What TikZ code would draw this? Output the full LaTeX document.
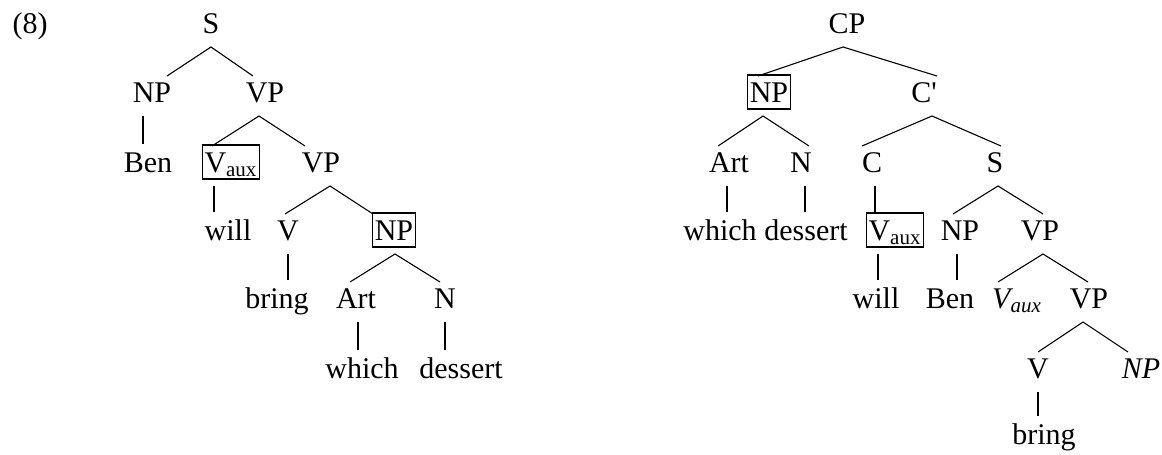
\documentclass[tikz,border=0pt]{standalone}
\usepackage{fontspec}
\setmainfont{Liberation Serif}
\usepackage{tikz}
\usetikzlibrary{calc}
\newcommand{\arms}[6]{\draw[arm] ($(#3.base)+(#4,-26)$) -- ($(#1.base)+(#2,14)$) -- ($(#5.base)+(#6,-26)$);}
\newcommand{\stalk}[3]{\draw[arm] ($(#1.base)+(#2,14)$) -- ($(#1.base |- #3.base)+(#2,-28)$);}

\begin{document}
\begin{tikzpicture}[x=0.5pt,y=-0.5pt,
   w/.style={anchor=base,inner sep=0pt,font=\fontsize{15}{18}\selectfont},
   boxed/.style={w,draw,line width=0.6pt,inner xsep=1pt,inner ysep=1pt,text height=12.5pt,text depth=2.5pt},
   arm/.style={line width=0.55pt}]
  \useasboundingbox (0,0) rectangle (1162,455);
  % left tree
  \node[w] (ex) at (30,33) {(8)};
  \node[w] (S) at (211,33) {S};
  \node[w] (NP) at (152,102) {NP};
  \node[w] (VP) at (265,102) {VP};
  \node[w] (Ben) at (148,172) {Ben};
  \node[boxed] (Vaux) at (231,172) {V\textsubscript{aux}};
  \node[w] (VP2) at (321,172) {VP};
  \node[w] (will) at (228,240) {will};
  \node[w] (V) at (288,240) {V};
  \node[boxed] (NP2) at (394,240) {NP};
  \node[w] (bring) at (277,308) {bring};
  \node[w] (Art) at (356,308) {Art};
  \node[w] (N) at (445,308) {N};
  \node[w] (which) at (362,378) {which};
  \node[w] (dessert) at (461,378) {dessert};
  \arms{S}{0}{NP}{15}{VP}{-12}
  \arms{VP}{-6}{Vaux}{-19}{VP2}{-16}
  \arms{VP2}{9}{V}{-3}{NP2}{-21}
  \arms{NP2}{1}{Art}{-6}{N}{-5}
  \stalk{NP}{-9}{Ben}
  \stalk{Vaux}{-17}{will}
  \stalk{V}{0}{bring}
  \stalk{Art}{2}{which}
  \stalk{N}{0}{dessert}
  % right tree
  \node[w] (CP) at (847,33) {CP};
  \node[boxed] (NP3) at (769,102) {NP};
  \node[w] (Cbar) at (924,102) {C\textquotesingle};
  \node[w] (Art2) at (729,172) {Art};
  \node[w] (N2) at (801,172) {N};
  \node[w] (C) at (872,172) {C};
  \node[w] (S2) at (995,172) {S};
  \node[w] (which2) at (720,240) {which};
  \node[w] (dessert2) at (806,240) {dessert};
  \node[boxed] (Vaux2) at (895,240) {V\textsubscript{aux}};
  \node[w] (NP4) at (960,240) {NP};
  \node[w] (VP3) at (1040,240) {VP};
  \node[w] (will2) at (876,308) {will};
  \node[w] (Ben2) at (950,308) {Ben};
  \node[w] (Vaux3) at (1017,308) {\itshape V\textsubscript{aux}};
  \node[w] (VP4) at (1089,308) {VP};
  \node[w] (V2) at (1038,378) {V};
  \node[w] (NP5) at (1141,378) {\itshape NP};
  \node[w] (bring2) at (1044,444) {bring};
  \arms{CP}{-4}{NP3}{-11}{Cbar}{13}
  \arms{NP3}{-6}{Art2}{-11}{N2}{8}
  \arms{Cbar}{8}{C}{-10}{S2}{6}
  \arms{S2}{3}{NP4}{-7}{VP3}{3}
  \arms{VP3}{3}{Vaux3}{-19}{VP4}{-1}
  \arms{VP4}{-6}{V2}{0}{NP5}{-13}
  \stalk{Art2}{-2}{which2}
  \stalk{N2}{4}{dessert2}
  \stalk{C}{3}{Vaux2}
  \stalk{NP4}{-3}{Ben2}
  \stalk{Vaux2}{-17}{will2}
  \stalk{V2}{0}{bring2}
\end{tikzpicture}
\end{document}
